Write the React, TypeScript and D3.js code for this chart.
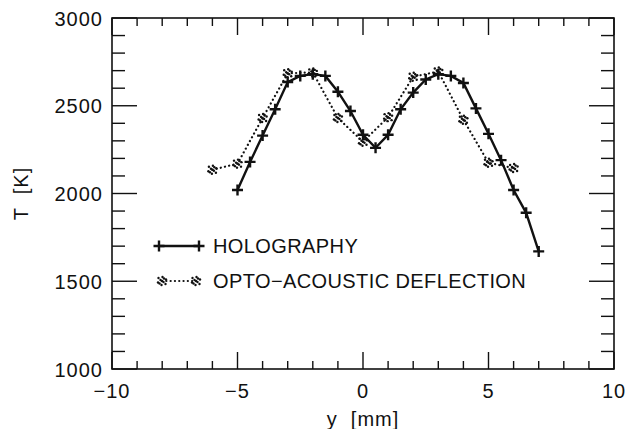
import React, { useEffect, useRef } from 'react'
import * as d3 from 'd3'

// holography profile, 0.5 mm steps
const holoY = [-5, -4.5, -4, -3.5, -3, -2.5, -2, -1.5, -1, -0.5, 0, 0.5, 1, 1.5, 2, 2.5, 3, 3.5, 4, 4.5, 5, 5.5, 6, 6.5, 7]
const holoT = [2020, 2180, 2330, 2480, 2635, 2670, 2680, 2670, 2580, 2470, 2335, 2260, 2335, 2480, 2575, 2650, 2680, 2670, 2630, 2485, 2340, 2190, 2020, 1890, 1670]

// opto-acoustic deflection, 1 mm steps
const optoY = [-6, -5, -4, -3, -2, -1, 0, 1, 2, 3, 4, 5, 6]
const optoT = [2135, 2170, 2430, 2685, 2690, 2430, 2295, 2435, 2665, 2695, 2420, 2175, 2145]

const xMajor = [-10, -5, 0, 5, 10]
const yMajor = [1000, 1500, 2000, 2500, 3000]

const legendItems = ['HOLOGRAPHY', 'OPTO\u2212ACOUSTIC DEFLECTION']

const FONT = '"Liberation Sans", Arial, sans-serif'

export default function App() {
  const ref = useRef(null)

  useEffect(() => {
    const width = 627
    const height = 429
    const m = { top: 18, right: 13, bottom: 60, left: 112 }

    const svg = d3.select(ref.current).attr('width', width).attr('height', height)
    svg.selectAll('*').remove()
    svg.append('rect').attr('width', width).attr('height', height).attr('fill', '#fff')

    const x = d3.scaleLinear().domain([-10, 10]).range([m.left, width - m.right])
    const y = d3.scaleLinear().domain([1000, 3000]).range([height - m.bottom, m.top])
    const [x0, x1] = x.range()
    const [y0, y1] = y.range()

    const ink = '#111'

    // frame
    svg.append('rect')
      .attr('x', x0).attr('y', y1)
      .attr('width', x1 - x0).attr('height', y0 - y1)
      .attr('fill', 'none').attr('stroke', ink).attr('stroke-width', 1.6)

    // ticks
    const t = svg.append('g').attr('stroke', ink).attr('stroke-width', 1.4)
    d3.range(-10, 10.01, 1).forEach((v) => {
      const len = xMajor.includes(v) ? 17 : 8
      t.append('line').attr('x1', x(v)).attr('x2', x(v)).attr('y1', y0).attr('y2', y0 - len)
      t.append('line').attr('x1', x(v)).attr('x2', x(v)).attr('y1', y1).attr('y2', y1 + len)
    })
    d3.range(1000, 3000.1, 100).forEach((v) => {
      const len = yMajor.includes(v) ? 25 : 13
      t.append('line').attr('x1', x0).attr('x2', x0 + len).attr('y1', y(v)).attr('y2', y(v))
      t.append('line').attr('x1', x1).attr('x2', x1 - len).attr('y1', y(v)).attr('y2', y(v))
    })

    // tick labels
    const txt = svg.append('g').attr('font-family', FONT).attr('font-size', 20).attr('fill', ink).attr('letter-spacing', 1)
    xMajor.forEach((v) => {
      txt.append('text')
        .attr('x', x(v)).attr('y', y0 + 29)
        .attr('text-anchor', 'middle')
        .text(v < 0 ? '\u2212' + Math.abs(v) : String(v))
    })
    yMajor.forEach((v) => {
      txt.append('text')
        .attr('x', x0 - 9).attr('y', y(v) + 7.5)
        .attr('text-anchor', 'end')
        .text(String(v))
    })

    // axis titles
    txt.append('text')
      .attr('x', x(0)).attr('y', 426)
      .attr('text-anchor', 'middle')
      .attr('xml:space', 'preserve')
      .text('y  [mm]')
    txt.append('text')
      .attr('transform', `translate(28,${(y0 + y1) / 2}) rotate(-90)`)
      .attr('text-anchor', 'middle')
      .attr('xml:space', 'preserve')
      .text('T  [K]')

    // markers
    const plus = (g, cx, cy) => {
      g.append('path')
        .attr('d', `M${cx - 5.5},${cy}H${cx + 5.5}M${cx},${cy - 5.5}V${cy + 5.5}`)
        .attr('stroke', ink).attr('stroke-width', 2.4).attr('fill', 'none')
    }
    const blob = (g, cx, cy) => {
      const pts = [[0, 0], [-3.5, -3], [0.5, -4], [4, -1.5], [3.5, 3], [-0.5, 4], [-4, 1.5], [-1.5, -1], [1.5, 1], [2, -2.5], [-2.5, 2.5]]
      pts.forEach(([dx, dy]) => {
        g.append('circle').attr('cx', cx + dx).attr('cy', cy + dy).attr('r', 1.2).attr('fill', ink)
      })
    }

    const line = d3.line().x((d) => x(d[0])).y((d) => y(d[1]))

    // opto-acoustic dotted series
    const optoData = optoY.map((v, i) => [v, optoT[i]])
    svg.append('path')
      .datum(optoData)
      .attr('d', line)
      .attr('fill', 'none').attr('stroke', ink).attr('stroke-width', 2.2)
      .attr('stroke-dasharray', '0.1,4.2').attr('stroke-linecap', 'round')
    const og = svg.append('g')
    optoData.forEach((d) => blob(og, x(d[0]), y(d[1])))

    // holography solid series
    const holoData = holoY.map((v, i) => [v, holoT[i]])
    svg.append('path')
      .datum(holoData)
      .attr('d', line)
      .attr('fill', 'none').attr('stroke', ink).attr('stroke-width', 2.4)
    const hg = svg.append('g')
    holoData.forEach((d) => plus(hg, x(d[0]), y(d[1])))

    // legend
    const lg = svg.append('g')
    lg.append('line').attr('x1', 159).attr('x2', 199).attr('y1', 246).attr('y2', 246)
      .attr('stroke', ink).attr('stroke-width', 2.4)
    plus(lg, 159, 246)
    plus(lg, 199, 246)
    lg.append('line').attr('x1', 162).attr('x2', 196).attr('y1', 281).attr('y2', 281)
      .attr('stroke', ink).attr('stroke-width', 2.2)
      .attr('stroke-dasharray', '0.1,4.2').attr('stroke-linecap', 'round')
    blob(lg, 162, 281)
    blob(lg, 196, 281)
    legendItems.forEach((s, i) => {
      lg.append('text')
        .attr('x', 213).attr('y', 253 + i * 35)
        .attr('font-family', FONT).attr('font-size', 20).attr('fill', ink)
        .attr('letter-spacing', 0.4)
        .text(s)
    })
  }, [])

  return (
    <div style={{ position: 'absolute', left: 0, top: 0 }}>
      <svg ref={ref}></svg>
    </div>
  )
}
